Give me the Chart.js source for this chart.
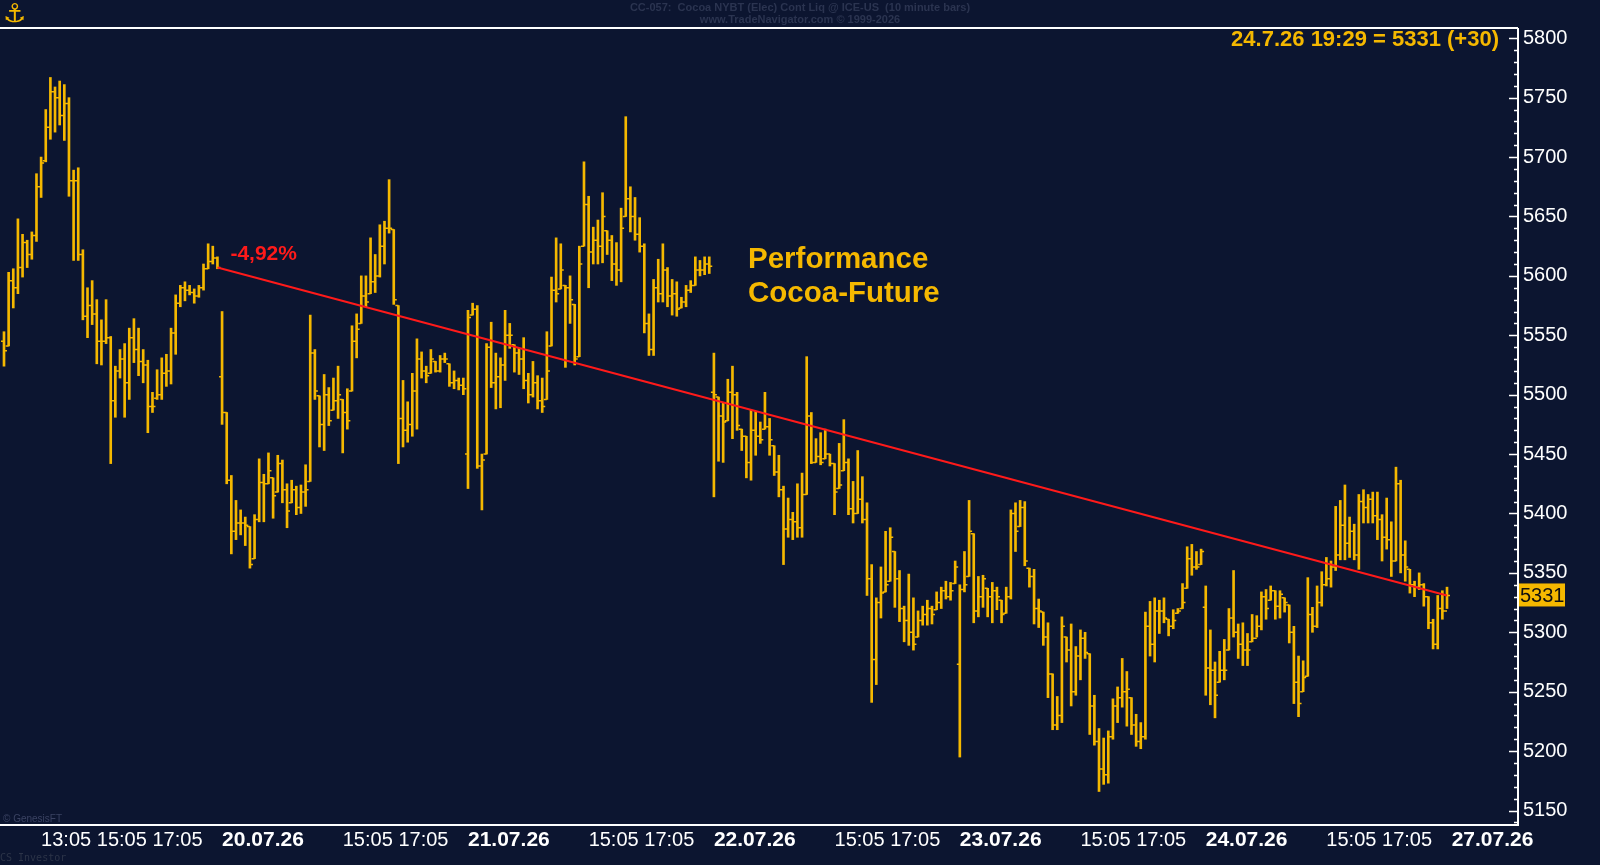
<!DOCTYPE html>
<html>
<head>
<meta charset="utf-8">
<title>CC-057 Cocoa NYBT (10 minute bars)</title>
<script src="https://cdn.jsdelivr.net/npm/chart.js@4.4.1/dist/chart.umd.min.js"></script>
<style>
  html, body { margin: 0; padding: 0; background: #0c1530; }
  #wrap { position: relative; width: 1600px; height: 865px; }
</style>
</head>
<body>
<div id="wrap"><canvas id="chart"></canvas></div>
<script>
// Cocoa NYBT continuous, 10 minute bars, 17.07.26 - 24.07.26

const sessionDates = ['17.07.26', '20.07.26', '21.07.26', '22.07.26', '23.07.26', '24.07.26'];
const sessionFirstBar = ['11:45', '10:45', '10:45', '10:45', '10:45', '10:45'];
const sessionBarCount = [47, 53, 53, 53, 53, 53];
const nextSessionDate = '27.07.26';
const firstDayTimeTicks = ['13:05', '15:05', '17:05'];
const dayTimeTicks = ['15:05', '17:05'];
const priceTicks = [5150, 5200, 5250, 5300, 5350, 5400, 5450, 5500, 5550, 5600, 5650, 5700, 5750, 5800];

const highs = [
  // 17.07
  5553,5603,5606,5648,5635,5630,5637,5686,5700,5740,5767,5759,5764,5761,5750,5689,5691,5622,5590,5596,5580,5563,5580,5549,
  5524,5538,5543,5556,5564,5556,5538,5529,5502,5521,5531,5534,5556,5584,5592,5595,5592,5589,5592,5610,5627,5625,5616,
  // 20.07
  5570,5485,5432,5411,5403,5397,5389,5399,5446,5433,5451,5430,5449,5445,5425,5428,5423,5424,5441,5567,5538,5499,5517,5506,
  5514,5524,5496,5505,5558,5568,5600,5600,5632,5618,5643,5646,5681,5639,5575,5512,5494,5518,5547,5536,5524,5538,5528,5533,
  5535,5526,5520,5514,5514,
  // 21.07
  5571,5577,5575,5450,5543,5561,5535,5531,5571,5560,5542,5539,5548,5518,5528,5516,5514,5553,5599,5632,5627,5592,5600,5576,
  5625,5696,5667,5641,5647,5670,5638,5634,5628,5657,5734,5675,5666,5649,5627,5568,5597,5614,5627,5607,5597,5595,5582,5592,
  5596,5616,5613,5616,5616,
  // 22.07
  5535,5498,5493,5513,5524,5502,5471,5465,5487,5486,5477,5502,5480,5457,5449,5423,5413,5401,5425,5434,5532,5485,5463,5468,
  5471,5450,5442,5459,5479,5446,5427,5453,5431,5409,5357,5329,5355,5385,5388,5368,5352,5322,5349,5329,5318,5322,5327,5322,
  5334,5338,5343,5342,5360,
  // 23.07
  5340,5368,5411,5383,5347,5348,5337,5342,5338,5327,5338,5403,5409,5411,5410,5354,5353,5328,5317,5308,5265,5246,5313,5296,
  5307,5288,5302,5300,5282,5247,5219,5211,5217,5244,5254,5278,5267,5245,5231,5224,5317,5326,5329,5327,5329,5311,5319,5320,
  5341,5372,5374,5368,5370,
  // 24.07
  5339,5302,5275,5284,5294,5320,5352,5307,5308,5299,5315,5314,5334,5336,5339,5335,5335,5329,5323,5305,5280,5276,5346,5321,
  5339,5351,5363,5360,5406,5411,5424,5397,5391,5416,5420,5416,5418,5418,5399,5413,5393,5439,5428,5377,5353,5343,5350,5341,
  5330,5311,5331,5335,5338
];

const lows = [
  // 17.07
  5524,5541,5573,5585,5599,5607,5614,5629,5666,5696,5715,5721,5727,5714,5667,5613,5613,5563,5548,5559,5526,5525,5543,5442,
  5481,5514,5481,5496,5527,5516,5510,5468,5485,5496,5496,5507,5509,5534,5574,5579,5584,5577,5582,5588,5606,5610,5606,
  // 20.07
  5475,5425,5366,5378,5382,5373,5354,5362,5393,5393,5425,5396,5418,5409,5388,5409,5399,5400,5406,5427,5496,5456,5453,5474,
  5487,5480,5451,5471,5503,5531,5560,5574,5585,5586,5599,5610,5636,5576,5442,5456,5460,5465,5471,5514,5510,5518,5519,5519,
  5527,5507,5505,5504,5500,
  // 21.07
  5421,5567,5438,5403,5450,5506,5488,5489,5512,5539,5519,5517,5505,5493,5498,5488,5485,5496,5541,5578,5589,5523,5560,5525,
  5532,5625,5590,5610,5610,5611,5618,5596,5592,5595,5650,5637,5630,5620,5552,5533,5533,5578,5578,5574,5567,5566,5573,5574,
  5586,5592,5600,5601,5602,
  // 22.07
  5414,5444,5443,5478,5463,5470,5453,5430,5428,5449,5459,5471,5449,5432,5414,5357,5380,5378,5380,5380,5416,5442,5443,5441,
  5446,5440,5399,5421,5436,5399,5392,5400,5392,5331,5241,5256,5312,5334,5343,5321,5309,5292,5289,5285,5296,5306,5306,5307,
  5319,5320,5328,5327,5341,
  // 23.07
  5195,5334,5347,5308,5313,5321,5313,5308,5319,5308,5316,5328,5368,5389,5356,5338,5307,5304,5289,5245,5218,5218,5224,5275,
  5238,5247,5260,5278,5214,5205,5166,5172,5173,5210,5224,5237,5221,5214,5204,5202,5210,5280,5275,5299,5308,5297,5303,5316,
  5320,5337,5348,5353,5357,
  // 24.07
  5247,5239,5228,5258,5260,5285,5296,5278,5272,5272,5292,5296,5302,5311,5327,5311,5312,5317,5291,5240,5229,5250,5263,5300,
  5304,5322,5339,5338,5352,5361,5361,5363,5361,5353,5392,5392,5392,5378,5360,5370,5347,5360,5350,5343,5333,5330,5336,5322,
  5303,5286,5286,5311,5320
];

const opens = [
  // 17.07
  5545,5541,5596,5590,5607,5628,5618,5634,5675,5697,5725,5755,5750,5735,5745,5680,5680,5618,5566,5575,5568,5545,5545,5548,
  5495,5520,5530,5510,5548,5538,5528,5525,5490,5497,5500,5518,5520,5552,5577,5590,5588,5586,5583,5590,5606,5612,5615,
  // 20.07
  5515,5485,5428,5385,5392,5392,5389,5362,5395,5426,5425,5430,5418,5442,5420,5409,5420,5405,5418,5427,5535,5499,5475,5500,
  5487,5495,5496,5485,5503,5545,5560,5583,5585,5595,5600,5625,5640,5639,5575,5480,5470,5475,5503,5530,5520,5518,5528,5520,
  5530,5526,5510,5512,5508,
  // 21.07
  5450,5567,5572,5440,5450,5540,5510,5515,5525,5550,5542,5535,5530,5512,5500,5510,5495,5496,5541,5588,5589,5592,5590,5576,
  5532,5625,5660,5620,5630,5625,5638,5630,5610,5605,5650,5665,5650,5635,5625,5560,5538,5590,5585,5605,5583,5585,5573,5578,
  5588,5592,5605,5605,5610,
  // 22.07
  5502,5498,5482,5478,5502,5500,5471,5465,5443,5470,5465,5471,5473,5457,5435,5420,5387,5395,5393,5388,5416,5482,5443,5448,
  5446,5450,5442,5421,5436,5443,5404,5400,5412,5395,5345,5277,5325,5334,5343,5368,5345,5320,5310,5300,5296,5310,5315,5320,
  5319,5325,5335,5330,5341,
  // 23.07
  5273,5336,5347,5383,5318,5330,5337,5330,5335,5327,5316,5330,5400,5389,5405,5354,5347,5320,5317,5296,5265,5222,5230,5296,
  5285,5250,5280,5295,5282,5238,5208,5185,5180,5212,5238,5245,5250,5245,5222,5208,5212,5305,5290,5318,5318,5311,5305,5316,
  5320,5337,5362,5355,5357,
  // 24.07
  5321,5270,5268,5258,5268,5285,5312,5300,5290,5285,5292,5295,5305,5330,5327,5335,5322,5329,5323,5300,5258,5250,5263,5315,
  5305,5325,5340,5345,5355,5365,5390,5375,5385,5365,5410,5405,5412,5398,5395,5380,5378,5360,5425,5365,5353,5340,5338,5340,
  5330,5308,5290,5320,5318
];

const closes = [
  // 17.07
  5537,5596,5590,5607,5628,5618,5634,5675,5695,5725,5755,5750,5735,5745,5680,5680,5618,5566,5575,5568,5545,5545,5548,5495,
  5520,5530,5510,5548,5538,5528,5525,5490,5490,5500,5518,5520,5552,5577,5590,5588,5586,5583,5590,5606,5612,5615,5607,
  // 20.07
  5485,5428,5385,5392,5392,5390,5357,5395,5426,5425,5436,5415,5442,5420,5402,5420,5405,5418,5420,5535,5503,5475,5500,5478,
  5495,5500,5485,5478,5545,5555,5583,5578,5595,5600,5625,5640,5640,5580,5480,5470,5475,5503,5530,5520,5516,5530,5520,5530,
  5530,5510,5512,5508,5505,
  // 21.07
  5565,5572,5440,5445,5540,5510,5515,5525,5550,5550,5535,5530,5512,5500,5510,5495,5490,5520,5588,5585,5605,5590,5580,5530,
  5610,5660,5620,5630,5625,5650,5630,5610,5605,5640,5665,5650,5635,5625,5560,5538,5590,5585,5605,5583,5585,5572,5578,5588,
  5592,5605,5605,5610,5608,
  // 22.07
  5500,5482,5477,5502,5500,5474,5465,5443,5470,5465,5462,5473,5462,5435,5420,5387,5395,5393,5388,5416,5482,5443,5448,5443,
  5450,5442,5418,5424,5443,5404,5400,5412,5395,5345,5277,5325,5333,5340,5380,5345,5320,5310,5300,5290,5310,5315,5320,5315,
  5325,5335,5330,5335,5355,
  // 23.07
  5336,5340,5385,5318,5330,5345,5330,5335,5330,5315,5330,5400,5385,5405,5360,5347,5320,5318,5296,5265,5222,5230,5305,5285,
  5250,5280,5295,5283,5238,5208,5185,5180,5212,5238,5245,5250,5252,5222,5208,5212,5305,5290,5318,5318,5312,5305,5310,5318,
  5325,5362,5355,5355,5368,
  // 24.07
  5270,5268,5247,5268,5268,5312,5300,5290,5285,5285,5295,5305,5330,5320,5335,5322,5332,5325,5300,5258,5240,5262,5315,5305,
  5325,5340,5345,5355,5365,5390,5375,5385,5365,5410,5405,5412,5398,5395,5380,5378,5360,5425,5365,5355,5340,5338,5340,5330,
  5308,5290,5320,5318,5331
];

// trend line: last bar of 17.07 to last bar of 24.07
const trendFrom = 46;
const trendTo = 311;
const lastStamp = '24.7.26 19:29';
const lastChange = 30;

const NAVY = '#0c1530';
const GOLD = '#f5b800';
const RED = '#ff1a1a';
const WHITE = '#ffffff';
const SANS = "'Liberation Sans', Arial, sans-serif";
const NARROW = "'Liberation Sans Narrow', 'Arial Narrow', 'Liberation Sans', sans-serif";

function addMinutes(hhmm, m) {
    const [h, mm] = hhmm.split(':').map(Number);
    const t = h * 60 + mm + m;
    return String(Math.floor(t / 60)).padStart(2, '0') + ':' + String(t % 60).padStart(2, '0');
}

// x axis ticks: date at session start, a few clock times inside each session
const xTicks = [];
let barStart = 0;
sessionDates.forEach((d, s) => {
    if (s > 0) xTicks.push({ value: barStart, label: d, bold: true });
    const wanted = s === 0 ? firstDayTimeTicks : dayTimeTicks;
    for (let j = 0; j < sessionBarCount[s]; j++) {
        const t = addMinutes(sessionFirstBar[s], j * 10);
        if (wanted.includes(t)) xTicks.push({ value: barStart + j, label: t, bold: false });
    }
    barStart += sessionBarCount[s];
});
xTicks.push({ value: barStart, label: nextSessionDate, bold: true });
const xTickByValue = new Map(xTicks.map(t => [t.value, t]));

const ohlcTicks = {
    id: 'ohlcTicks',
    afterDatasetDraw(chart, args) {
        if (args.index !== 0) return;
        const { ctx, chartArea, scales: { x, y } } = chart;
        ctx.save();
        ctx.beginPath();
        ctx.rect(chartArea.left, chartArea.top, chartArea.width, chartArea.height);
        ctx.clip();
        ctx.strokeStyle = GOLD;
        ctx.lineWidth = 1.5;
        ctx.beginPath();
        for (let i = 0; i < closes.length; i++) {
            const px = x.getPixelForValue(i);
            const yo = y.getPixelForValue(opens[i]);
            const yc = y.getPixelForValue(closes[i]);
            ctx.moveTo(px - 3, yo);
            ctx.lineTo(px, yo);
            ctx.moveTo(px, yc);
            ctx.lineTo(px + 3, yc);
        }
        ctx.stroke();
        ctx.restore();
    }
};

const decorations = {
    id: 'decorations',
    beforeDraw(chart) {
        const { ctx, width, height } = chart;
        ctx.save();
        ctx.fillStyle = NAVY;
        ctx.fillRect(0, 0, width, height);
        ctx.restore();
    },
    afterDraw(chart) {
        const { ctx, chartArea, scales: { x, y } } = chart;
        const last = closes.length - 1;
        ctx.save();

        // top frame line
        ctx.fillStyle = WHITE;
        ctx.fillRect(0, chartArea.top - 2, chartArea.right, 2);

        // price axis tick marks, inside the plot
        ctx.strokeStyle = WHITE;
        ctx.lineWidth = 1.5;
        ctx.beginPath();
        for (let v = Math.ceil(y.min / 10) * 10; v <= y.max; v += 10) {
            const py = Math.round(y.getPixelForValue(v)) + 0.5;
            const len = v % 50 === 0 ? 9 : 4;
            ctx.moveTo(chartArea.right - len, py);
            ctx.lineTo(chartArea.right, py);
        }
        ctx.stroke();

        // last price box
        const ly = y.getPixelForValue(closes[last]);
        ctx.fillStyle = GOLD;
        ctx.fillRect(chartArea.right + 1, ly - 12, 46, 23);
        ctx.fillStyle = '#101010';
        ctx.font = '20px ' + SANS;
        ctx.textBaseline = 'middle';
        ctx.textAlign = 'left';
        ctx.fillText(String(closes[last]), chartArea.right + 2, ly + 1);

        // header quote
        ctx.fillStyle = GOLD;
        ctx.font = 'bold 22px ' + SANS;
        ctx.textAlign = 'right';
        ctx.fillText(lastStamp + ' = ' + closes[last] + ' (+' + lastChange + ')', chartArea.right - 19, 40);

        // performance label at the start of the trend line
        const perf = ((closes[trendTo] / closes[trendFrom] - 1) * 100).toFixed(2).replace('.', ',') + '%';
        ctx.fillStyle = RED;
        ctx.font = 'bold 21px ' + SANS;
        ctx.textAlign = 'left';
        ctx.fillText(perf, x.getPixelForValue(trendFrom) + 13, y.getPixelForValue(closes[trendFrom]) - 13);

        ctx.fillStyle = GOLD;
        ctx.font = 'bold 29.5px ' + SANS;
        ctx.fillText('Performance', 748, 260);
        ctx.fillText('Cocoa-Future', 748, 294);

        // dim header and credits
        ctx.fillStyle = '#2b3450';
        ctx.font = 'bold 11px ' + NARROW;
        ctx.textAlign = 'center';
        ctx.fillText('CC-057:  Cocoa NYBT (Elec) Cont Liq @ ICE-US  (10 minute bars)', 800, 8);
        ctx.fillText('www.TradeNavigator.com \u00a9 1999-2026', 800, 20);
        ctx.textAlign = 'left';
        ctx.font = '10px ' + NARROW;
        ctx.fillStyle = '#3a4262';
        ctx.fillText('\u00a9 GenesisFT', 3, chartArea.bottom - 6);
        ctx.font = '10px "DejaVu Sans Mono", monospace';
        ctx.fillStyle = '#2c3448';
        ctx.fillText('CS Investor', 0, 858);

        // logo
        ctx.fillStyle = GOLD;
        ctx.font = '26px "DejaVu Sans", sans-serif';
        ctx.fillText('\u2693', 3, 15);
        ctx.restore();
    }
};

const ctx = document.getElementById('chart').getContext('2d');
new Chart(ctx, {
    type: 'bar',
    data: {
        datasets: [{
            type: 'bar',
            data: highs.map((h, i) => ({ x: i, y: [lows[i], h] })),
            backgroundColor: GOLD,
            barThickness: 2,
            order: 2
        }, {
            type: 'line',
            data: [
                { x: trendFrom, y: closes[trendFrom] },
                { x: trendTo, y: closes[trendTo] }
            ],
            borderColor: RED,
            borderWidth: 2,
            pointRadius: 0,
            order: 1
        }]
    },
    options: {
        responsive: true,
        maintainAspectRatio: false,
        animation: false,
        layout: { padding: { top: 29, left: 0, right: 0, bottom: 0 } },
        plugins: {
            legend: { display: false },
            tooltip: { enabled: false }
        },
        scales: {
            x: {
                type: 'linear',
                min: -0.862,
                max: 326.3,
                offset: false,
                afterBuildTicks: (axis) => { axis.ticks = xTicks.map(t => ({ value: t.value })); },
                afterFit: (axis) => { axis.height = 40; axis.paddingLeft = 0; axis.paddingRight = 0; },
                grid: { display: true, drawOnChartArea: false, drawTicks: false },
                border: { display: true, color: WHITE, width: 2 },
                ticks: {
                    autoSkip: false,
                    maxRotation: 0,
                    minRotation: 0,
                    align: 'start',
                    padding: 3,
                    color: WHITE,
                    font: (c) => (c.tick && xTickByValue.get(c.tick.value) && xTickByValue.get(c.tick.value).bold)
                        ? { family: SANS, size: 21, weight: 'bold' }
                        : { family: NARROW, size: 20 },
                    callback: (value) => (xTickByValue.get(value) || { label: '' }).label
                }
            },
            y: {
                position: 'right',
                min: 5137.8,
                max: 5807.8,
                afterBuildTicks: (axis) => { axis.ticks = priceTicks.map(v => ({ value: v })); },
                afterFit: (axis) => { axis.width = 82; axis.paddingTop = 0; axis.paddingBottom = 0; },
                grid: { display: true, drawOnChartArea: false, drawTicks: false },
                border: { display: true, color: WHITE, width: 2 },
                ticks: {
                    padding: 5,
                    color: WHITE,
                    font: { family: SANS, size: 20 },
                    callback: (value) => String(value)
                }
            }
        }
    },
    plugins: [ohlcTicks, decorations]
});
</script>
</body>
</html>
